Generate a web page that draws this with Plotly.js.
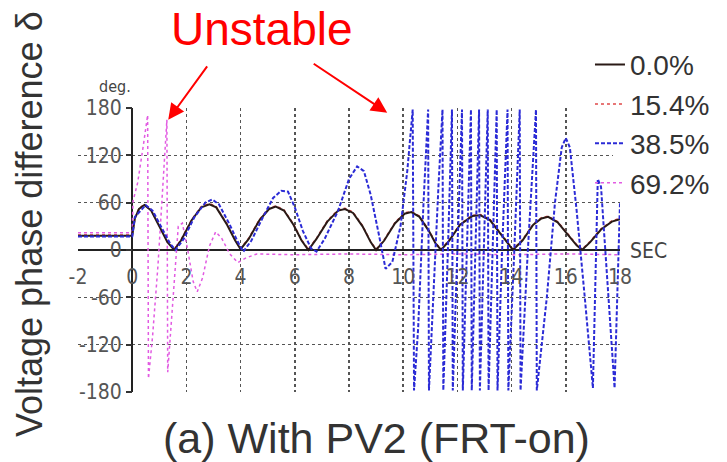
<!DOCTYPE html>
<html>
<head>
<meta charset="utf-8">
<script src="https://cdn.plot.ly/plotly-3.0.1.min.js"></script>
<style>html,body{margin:0;padding:0;background:#fff;}#chart{width:727px;height:462px;}</style>
</head>
<body>
<div id="chart"></div>
<script>
// ---- Data (time in s, phase difference in deg) ----
const seriesNames = ["0.0%", "15.4%", "38.5%", "69.2%"];

const t00 = [-2,0,0.1,0.25,0.45,0.7,1.0,1.3,1.55,1.8,2.2,2.55,2.85,3.1,3.5,3.8,4.0,4.3,4.7,5.05,5.3,5.6,5.95,6.25,6.5,6.8,7.2,7.6,7.85,8.15,8.5,8.8,9.0,9.3,9.7,10.05,10.3,10.6,10.95,11.2,11.4,11.7,12.1,12.55,12.85,13.2,13.6,13.9,14.05,14.4,14.8,15.1,15.35,15.7,16.1,16.4,16.6,16.9,17.3,17.7,18];
const d00 = [18,18,40,52,57,50,30,10,0,12,38,54,58,54,32,12,1,14,38,52,55,50,32,12,0,14,36,50,52,47,30,10,0,12,34,46,48,42,24,8,0,12,32,43,44,38,20,6,0,12,32,40,42,35,18,6,0,10,26,36,39];

const t15 = [-2,0,0.1,0.25,0.45,0.7,1.0,1.3,1.55,1.8,2.2,2.55,2.85,3.1,3.5,3.8,4.0,4.3,4.7,5.05,5.3,5.6,5.95,6.25,6.5,6.8,7.2,7.6,7.85,8.15,8.5,8.8,9.0,9.3,9.7,10.05,10.3,10.6,10.95,11.2,11.4,11.7,12.1,12.55,12.85,13.2,13.6,13.9,14.05,14.4,14.8,15.1,15.35,15.7,16.1,16.4,16.6,16.9,17.3,17.7,18];
const d15 = [19,19,41,53,58,51,31,11,1,13,39,55,59,55,33,13,2,15,39,53,56,51,33,13,1,15,37,51,53,48,31,11,1,13,35,47,49,43,25,9,1,13,33,44,45,39,21,7,1,13,33,41,43,36,19,7,1,11,27,37,40];

const t38 = [-2,0,0.1,0.3,0.5,0.75,1.1,1.4,1.6,1.9,2.3,2.7,2.95,3.2,3.6,3.9,4.1,4.4,4.8,5.2,5.5,5.75,6.0,6.3,6.6,6.8,7.1,7.6,8.0,8.3,8.55,8.8,9.1,9.35,9.6,9.9,10.15,10.35,10.4,10.55,10.75,10.92,10.95,11.1,11.3,11.45,11.48,11.65,11.8,11.83,12.0,12.17,12.2,12.35,12.5,12.53,12.67,12.8,12.83,12.98,13.12,13.15,13.3,13.45,13.48,13.65,13.85,13.88,14.1,14.3,14.33,14.6,14.9,14.93,15.3,15.6,15.85,16.0,16.15,16.4,16.7,17.0,17.18,17.3,17.8,18];
const d38 = [17,17,42,50,57,50,28,8,0,14,42,60,64,58,32,10,-2,12,40,66,75,74,54,24,2,-2,14,50,90,106,100,70,20,-24,-15,30,100,178,-178,-100,60,178,-178,-60,80,178,-178,0,178,-178,10,178,-178,0,178,-178,0,178,-178,0,178,-178,0,178,-178,0,178,-178,0,178,-178,0,178,-178,-60,60,130,142,130,50,-60,-175,90,80,-175,60];

const t69 = [-2,0,0.03,0.2,0.4,0.57,0.6,0.75,0.95,1.1,1.28,1.31,1.5,1.7,1.85,2.05,2.25,2.4,2.6,2.85,3.08,3.3,3.6,3.9,4.2,4.6,6,8,10,12,14,16,18];
const d69 = [22,22,62,85,130,171,-163,-110,-20,70,165,-155,-70,30,34,0,-40,-53,-35,5,23,15,-5,-16,-10,-5,-6,-5,-6,-5,-6,-5,-6];

const xTicks = [-2,0,2,4,6,8,10,12,14,16,18];
const xTickText = ["-2","0","2","4","6","8","10","12","14","16","18"];
const xGrid = [2,4,6,8,10,12,14,16,18];
const yTicks = [-180,-120,-60,0,60,120,180];
const yTickText = ["-180","-120","-60","0","60","120","180"];

const narrow = "Liberation Sans Narrow, DejaVu Sans Condensed, Arial Narrow, sans-serif";
const sans = "Liberation Sans, Arial, Helvetica, sans-serif";

const traces = [
  {x: t69, y: d69, name: seriesNames[3], legendrank: 4, mode: "lines",
   line: {color: "#e25be2", width: 1.5, dash: "dot"}},
  {x: t15, y: d15, name: seriesNames[1], legendrank: 2, mode: "lines",
   line: {color: "#e04848", width: 1.5, dash: "dot"}},
  {x: t00, y: d00, name: seriesNames[0], legendrank: 1, mode: "lines",
   line: {color: "#2a1a16", width: 2}},
  {x: t38, y: d38, name: seriesNames[2], legendrank: 3, mode: "lines",
   line: {color: "#2b2bd6", width: 2, dash: "4px,2px"}}
];

const layout = {
  width: 727, height: 462,
  margin: {l: 78, r: 107, t: 108, b: 70},
  paper_bgcolor: "#ffffff", plot_bgcolor: "#ffffff",
  showlegend: true,
  legend: {x: 0.9446, xanchor: "left", y: 1.24, yanchor: "top",
    font: {family: sans, size: 28, color: "#333"},
    bgcolor: "rgba(0,0,0,0)", itemwidth: 30, tracegroupgap: 0},
  xaxis: {range: [-2, 18], anchor: "free", position: 0.5,
    tickmode: "array", tickvals: xTicks, ticktext: xTickText,
    showgrid: false, zeroline: true, zerolinecolor: "#222", zerolinewidth: 2,
    showline: false, ticks: "outside", ticklen: 8, tickcolor: "rgba(0,0,0,0)",
    tickfont: {family: narrow, size: 21, color: "#555"},
    minor: {tickmode: "array", tickvals: xGrid, showgrid: true, gridcolor: "#555",
      griddash: "dot", gridwidth: 1.5, ticks: ""},
    fixedrange: true},
  yaxis: {range: [-180, 180], anchor: "free", position: 0.0996,
    tickmode: "array", tickvals: yTicks, ticktext: yTickText,
    showgrid: true, gridcolor: "#555", griddash: "dot", gridwidth: 1.5,
    zeroline: true, zerolinecolor: "#222", zerolinewidth: 2,
    showline: false, ticks: "outside", ticklen: 6, tickwidth: 2, tickcolor: "#333",
    tickfont: {family: narrow, size: 21, color: "#555"},
    fixedrange: true},
  shapes: [
    {type: "rect", xref: "paper", yref: "paper", x0: 0.987, x1: 1.3, y0: 0.694, y1: 1.3,
     fillcolor: "#ffffff", line: {width: 0}, layer: "above"}
  ],
  annotations: [
    {text: "Unstable", xref: "paper", yref: "paper", x: (262-78)/542, y: 1.278,
     xanchor: "center", yanchor: "middle", showarrow: false,
     font: {family: sans, size: 46, color: "#ff0000"}},
    {text: "", xref: "x", yref: "y", x: 1.33, y: 165, axref: "pixel", ayref: "pixel",
     ax: 40, ay: -55, showarrow: true, arrowhead: 2, arrowsize: 1.6, arrowwidth: 2,
     arrowcolor: "#ff0000"},
    {text: "", xref: "x", yref: "y", x: 9.41, y: 174, axref: "pixel", ayref: "pixel",
     ax: -75, ay: -50, showarrow: true, arrowhead: 2, arrowsize: 1.6, arrowwidth: 2,
     arrowcolor: "#ff0000"},
    {text: "deg.", xref: "paper", yref: "paper", x: 0.068, y: 1.075,
     xanchor: "center", yanchor: "middle", showarrow: false,
     font: {family: narrow, size: 16, color: "#444"}},
    {text: "SEC", xref: "paper", yref: "paper", x: 1.0148, y: 0.4965,
     xanchor: "left", yanchor: "middle", showarrow: false,
     font: {family: narrow, size: 21, color: "#444"}},
    {text: "Voltage phase difference δ", xref: "paper", yref: "paper",
     x: (29-78)/542, y: 0.5915, textangle: -90,
     xanchor: "center", yanchor: "middle", showarrow: false,
     font: {family: sans, size: 36, color: "#333"}},
    {text: "(a) With PV2 (FRT-on)", xref: "paper", yref: "paper",
     x: (376-78)/542, y: -0.162,
     xanchor: "center", yanchor: "middle", showarrow: false,
     font: {family: sans, size: 43, color: "#333"}}
  ]
};

Plotly.newPlot("chart", traces, layout, {displayModeBar: false, staticPlot: true});
</script>
</body>
</html>
